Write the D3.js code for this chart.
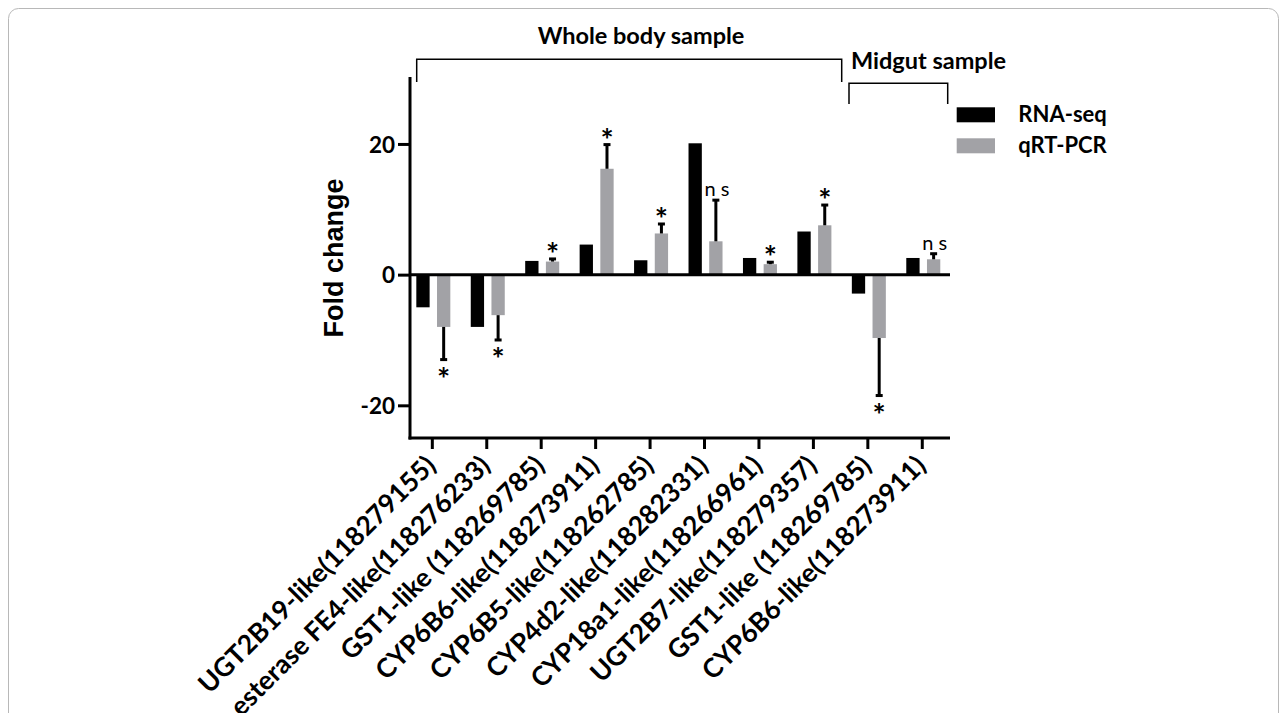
<!DOCTYPE html>
<html>
<head>
<meta charset="utf-8">
<script src="https://cdn.jsdelivr.net/npm/d3@7"></script>
<style>
  html, body { margin: 0; padding: 0; background: #fff; }
  svg { display: block; }
</style>
</head>
<body>
<svg id="chart" width="1287" height="713"></svg>
<script>
const categories = [
  "UGT2B19-like(118279155)",
  "esterase FE4-like(118276233)",
  "GST1-like (118269785)",
  "CYP6B6-like(118273911)",
  "CYP6B5-like(118262785)",
  "CYP4d2-like(118282331)",
  "CYP18a1-like(118266961)",
  "UGT2B7-like(118279357)",
  "GST1-like (118269785)",
  "CYP6B6-like(118273911)"
];
const seriesNames = ["RNA-seq", "qRT-PCR"];
const rnaSeq = [-5, -8, 2.1, 4.6, 2.2, 20.1, 2.55, 6.6, -2.9, 2.55];
const qpcr = [-8, -6.2, 2.0, 16.2, 6.3, 5.1, 1.6, 7.55, -9.7, 2.35];
const qpcrErr = [5, 3.8, 0.4, 3.7, 1.45, 6.3, 0.3, 3.1, 8.8, 0.85];
const significance = ["*", "*", "*", "*", "*", "n s", "*", "*", "*", "n s"];
const yTicks = [-20, 0, 20];
const groups = [
  { label: "Whole body sample", from: 0, to: 7 },
  { label: "Midgut sample", from: 8, to: 9 }
];
const colors = { "RNA-seq": "#000000", "qRT-PCR": "#a2a2a6" };

const svg = d3.select("#chart");
const labelFont = "Lato, 'Open Sans', sans-serif";

// frame
svg.append("rect")
  .attr("x", 8.5).attr("y", 8.5).attr("width", 1270).attr("height", 760)
  .attr("rx", 10).attr("fill", "none").attr("stroke", "#b8b8b8").attr("stroke-width", 1);

const plotLeft = 410, plotRight = 950, plotTop = 78.6, plotBottom = 438;

const x = d3.scaleBand().domain(d3.range(categories.length)).range([406.1, 950.5]).padding(0);
const xs = d3.scaleBand().domain(seriesNames).range([-17, 17]).paddingInner(0.357).paddingOuter(0);
const y = d3.scaleLinear().domain([-25, 30]).range([plotBottom, plotTop]);

const cx = i => x(i) + x.bandwidth() / 2;

// bars
const data = categories.map((c, i) => ({ i, vals: [
  { s: "RNA-seq", v: rnaSeq[i] },
  { s: "qRT-PCR", v: qpcr[i], e: qpcrErr[i], sig: significance[i] }
]}));

const g = svg.append("g");
const grp = g.selectAll("g.grp").data(data).join("g")
  .attr("transform", d => `translate(${cx(d.i)},0)`);

grp.selectAll("rect").data(d => d.vals).join("rect")
  .attr("x", d => xs(d.s))
  .attr("width", xs.bandwidth())
  .attr("y", d => y(Math.max(0, d.v)))
  .attr("height", d => Math.abs(y(d.v) - y(0)))
  .attr("fill", d => colors[d.s]);

// error bars (one-sided, away from zero)
const errs = grp.selectAll("g.err").data(d => d.vals.filter(v => v.e !== undefined)).join("g");
errs.append("line")
  .attr("x1", d => xs(d.s) + xs.bandwidth() / 2)
  .attr("x2", d => xs(d.s) + xs.bandwidth() / 2)
  .attr("y1", d => y(d.v))
  .attr("y2", d => y(d.v + Math.sign(d.v) * d.e))
  .attr("stroke", "#000").attr("stroke-width", 3);
errs.append("rect")
  .attr("x", d => xs(d.s) + xs.bandwidth() / 2 - 3.5)
  .attr("width", 7)
  .attr("y", d => y(d.v + Math.sign(d.v) * d.e) - 1.5)
  .attr("height", 3)
  .attr("fill", "#000");

// significance marks
errs.append("text")
  .attr("x", d => xs(d.s) + xs.bandwidth() / 2 + (d.sig === "*" ? 0 : 1))
  .attr("y", d => {
    const ye = y(d.v + Math.sign(d.v) * d.e);
    if (d.sig === "*") return d.v > 0 ? ye + 6 : ye + 30;
    return d.v > 0 ? ye - 4 : ye + 20;
  })
  .attr("text-anchor", "middle")
  .attr("font-family", labelFont)
  .attr("font-weight", d => d.sig === "*" ? 700 : 400)
  .attr("font-size", d => d.sig === "*" ? 31 : 20)
  .attr("fill", "#000")
  .text(d => d.sig);

// zero line
svg.append("line")
  .attr("x1", plotLeft).attr("x2", plotRight)
  .attr("y1", y(0)).attr("y2", y(0))
  .attr("stroke", "#000").attr("stroke-width", 3);

// y axis
const yAxis = svg.append("g").attr("transform", `translate(${plotLeft},0)`)
  .call(d3.axisLeft(y).tickValues(yTicks).tickSize(12).tickPadding(3).tickFormat(d => String(d)));
yAxis.select(".domain").remove();
yAxis.append("line").attr("x1", 0).attr("x2", 0).attr("y1", plotTop - 1.5).attr("y2", plotBottom + 1.5)
  .attr("stroke", "#000").attr("stroke-width", 3);
yAxis.selectAll(".tick line").attr("stroke", "#000").attr("stroke-width", 3);
yAxis.selectAll(".tick text")
  .attr("font-family", labelFont).attr("font-weight", 700).attr("font-size", 22.5).attr("fill", "#000")
  .attr("dy", "0.36em");

// x axis
const xAxis = svg.append("g").attr("transform", `translate(0,${plotBottom})`);
xAxis.append("line").attr("x1", plotLeft - 1.5).attr("x2", plotRight).attr("y1", 0).attr("y2", 0)
  .attr("stroke", "#000").attr("stroke-width", 3);
xAxis.selectAll("line.tk").data(d3.range(categories.length)).join("line")
  .attr("class", "tk")
  .attr("x1", i => cx(i) - 1).attr("x2", i => cx(i) - 1)
  .attr("y1", 0).attr("y2", 11)
  .attr("stroke", "#000").attr("stroke-width", 3);
xAxis.selectAll("text.lbl").data(categories).join("text")
  .attr("class", "lbl")
  .attr("transform", (d, i) => `translate(${cx(i) + 4},${29}) rotate(-45)`)
  .attr("text-anchor", "end")
  .attr("font-family", labelFont).attr("font-weight", 700).attr("font-size", 26.5).attr("fill", "#000")
  .text(d => d);

// y title
svg.append("text")
  .attr("transform", `translate(343,258) rotate(-90)`)
  .attr("text-anchor", "middle")
  .attr("font-family", "'Liberation Sans', Arial, sans-serif")
  .attr("font-weight", 700).attr("font-size", 27).attr("fill", "#000")
  .text("Fold change");

// group brackets
const bracketSpec = [
  { x1: 416.7, x2: 841.7, yTop: 59.3, yBot: 82, tx: 641, ty: 44 },
  { x1: 849, x2: 947.7, yTop: 83.3, yBot: 104, tx: 928.5, ty: 69 }
];
groups.forEach((gr, k) => {
  const b = bracketSpec[k];
  svg.append("path")
    .attr("d", `M${b.x1},${b.yBot}V${b.yTop}H${b.x2}V${b.yBot}`)
    .attr("fill", "none").attr("stroke", "#000").attr("stroke-width", 1.5);
  svg.append("text")
    .attr("x", b.tx).attr("y", b.ty)
    .attr("text-anchor", "middle")
    .attr("font-family", labelFont).attr("font-weight", 700).attr("font-size", 23.5).attr("fill", "#000")
    .text(gr.label);
});

// legend
const legend = svg.append("g");
seriesNames.forEach((s, k) => {
  legend.append("rect")
    .attr("x", 956.7).attr("y", 107.3 + k * 31).attr("width", 38.3).attr("height", 15)
    .attr("fill", colors[s]);
  legend.append("text")
    .attr("x", 1018.3).attr("y", 122.3 + k * 31)
    .attr("font-family", labelFont).attr("font-weight", 700).attr("font-size", 22).attr("fill", "#000")
    .text(s);
});
</script>
</body>
</html>
